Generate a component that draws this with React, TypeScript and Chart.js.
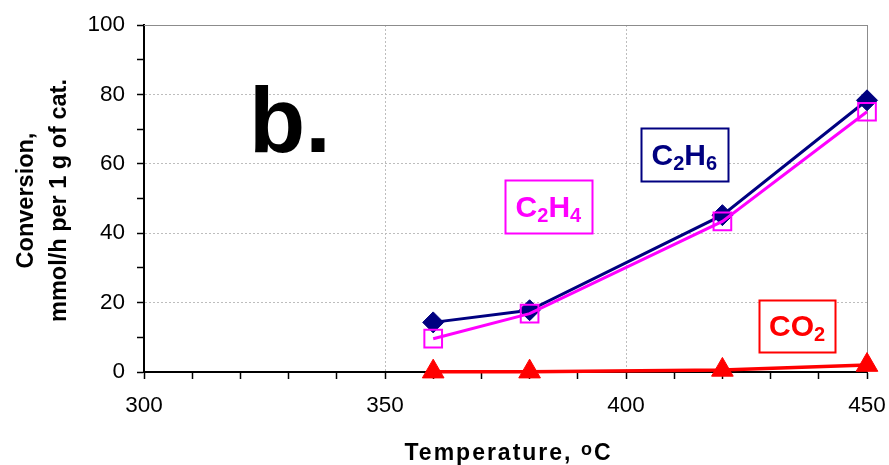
import React, { useEffect, useRef } from 'react';
import { Chart, registerables } from 'chart.js';

Chart.register(...registerables);

// ---- data ----
const temperatures = [360, 380, 420, 450];
const c2h6Values = [14.3, 17.8, 45.2, 78.3];
const c2h4Values = [9.6, 16.8, 43.4, 75.0];
const co2Values = [0.1, 0.1, 0.6, 2.0];

const xLabelTicks = [300, 350, 400, 450];
const yLabelTicks = [0, 20, 40, 60, 80, 100];
const xMinorStep = 10;
const yMinorStep = 10;

const yTitleLines = ['Conversion,', 'mmol/h per 1 g of cat.'];
const xTitleMain = 'Temperature, ';
const xTitleSup = 'o';
const xTitleUnit = 'C';
const panelLetter = 'b.';

// series tags: text segments [text, isSubscript], anchored in data coordinates
const c2h6Tag: [string, boolean][] = [['C', false], ['2', true], ['H', false], ['6', true]];
const c2h4Tag: [string, boolean][] = [['C', false], ['2', true], ['H', false], ['4', true]];
const co2Tag: [string, boolean][] = [['C', false], ['O', false], ['2', true]];

// ---- layout / style ----
const FONT = '"Liberation Sans", Arial, Helvetica, sans-serif';
const NAVY = '#000080';
const MAGENTA = '#FF00FF';
const RED = '#FF0000';

const tagLayout = [
  { seg: c2h6Tag, x: 412.1, y: 62.7, w: 87, h: 53, color: NAVY },
  { seg: c2h4Tag, x: 383.9, y: 47.7, w: 87, h: 53, color: MAGENTA },
  { seg: co2Tag, x: 435.5, y: 13.4, w: 76, h: 52, color: RED },
];
const panelLayout = { x: 321.8, y: 63.5 };

Chart.defaults.font.family = FONT;

const decorPlugin = {
  id: 'decor',
  beforeDatasetsDraw(chart: any) {
    const { ctx, chartArea: a, scales } = chart;
    const x = scales.x;
    const y = scales.y;
    ctx.save();
    ctx.strokeStyle = '#8c8c8c';
    ctx.lineWidth = 1;
    ctx.beginPath();
    const yt = Math.round(y.getPixelForValue(y.max)) + 0.5;
    ctx.moveTo(a.left, yt);
    ctx.lineTo(a.right + 1, yt);
    const xr = Math.round(x.getPixelForValue(x.max)) + 0.5;
    ctx.moveTo(xr, a.top);
    ctx.lineTo(xr, a.bottom);
    ctx.stroke();
    ctx.restore();
  },
  afterDatasetsDraw(chart: any) {
    const { ctx, scales } = chart;
    const x = scales.x;
    const y = scales.y;
    ctx.save();
    // panel letter
    ctx.fillStyle = '#000';
    ctx.font = `bold 92px ${FONT}`;
    ctx.textAlign = 'left';
    ctx.textBaseline = 'alphabetic';
    ctx.fillText(panelLetter, x.getPixelForValue(panelLayout.x), y.getPixelForValue(panelLayout.y));

    // series tags
    const mainFont = `bold 30px ${FONT}`;
    const subFont = `bold 20px ${FONT}`;
    for (const t of tagLayout) {
      const cx = x.getPixelForValue(t.x);
      const cy = y.getPixelForValue(t.y);
      const left = Math.round(cx - t.w / 2) + 0.5;
      const top = Math.round(cy - t.h / 2) + 0.5;
      ctx.fillStyle = '#ffffff';
      ctx.fillRect(left, top, t.w, t.h);
      ctx.strokeStyle = t.color;
      ctx.lineWidth = 2;
      ctx.strokeRect(left, top, t.w, t.h);
      let total = 0;
      for (const [s, sub] of t.seg) {
        ctx.font = sub ? subFont : mainFont;
        total += ctx.measureText(s).width;
      }
      let px = cx - total / 2;
      const base = cy + 10.5;
      ctx.fillStyle = t.color;
      for (const [s, sub] of t.seg) {
        ctx.font = sub ? subFont : mainFont;
        ctx.fillText(s, px, sub ? base + 5 : base);
        px += ctx.measureText(s).width;
      }
    }
    ctx.restore();
  },
  afterDraw(chart: any) {
    const { ctx, chartArea: a } = chart;
    ctx.save();
    ctx.fillStyle = '#000';
    // y title (two rotated lines)
    ctx.font = `bold 23.5px ${FONT}`;
    ctx.textAlign = 'center';
    ctx.textBaseline = 'alphabetic';
    const cy = (a.top + a.bottom) / 2 + 2;
    const baselines = [32.5, 65.5];
    yTitleLines.forEach((line, i) => {
      ctx.save();
      ctx.translate(baselines[i], cy);
      ctx.rotate(-Math.PI / 2);
      ctx.fillText(line, 0, 0);
      ctx.restore();
    });
    // x title with superscript
    const mainF = `bold 23px ${FONT}`;
    const supF = `bold 18px ${FONT}`;
    (ctx as any).letterSpacing = '2px';
    ctx.textAlign = 'left';
    ctx.font = mainF;
    const w1 = ctx.measureText(xTitleMain).width;
    const w3 = ctx.measureText(xTitleUnit).width;
    ctx.font = supF;
    const w2 = ctx.measureText(xTitleSup).width;
    const total = w1 + w2 + w3;
    let px = (a.left + a.right) / 2 + 3 - total / 2;
    const base = 460;
    ctx.font = mainF;
    ctx.fillText(xTitleMain, px, base);
    px += w1;
    ctx.font = supF;
    ctx.fillText(xTitleSup, px, base - 5);
    px += w2;
    ctx.font = mainF;
    ctx.fillText(xTitleUnit, px, base);
    ctx.restore();
  },
};

function minorTicks(min: number, max: number, step: number) {
  const out: { value: number }[] = [];
  for (let v = min; v <= max + 1e-9; v += step) out.push({ value: v });
  return out;
}

export default function App() {
  const ref = useRef<HTMLCanvasElement | null>(null);

  useEffect(() => {
    if (!ref.current) return;
    const pts = (vals: number[]) => temperatures.map((t, i) => ({ x: t, y: vals[i] }));
    const xMin = xLabelTicks[0];
    const xMax = xLabelTicks[xLabelTicks.length - 1];
    const yMin = yLabelTicks[0];
    const yMax = yLabelTicks[yLabelTicks.length - 1];

    const chart = new Chart(ref.current, {
      type: 'line',
      data: {
        datasets: [
          {
            label: 'C2H6',
            data: pts(c2h6Values),
            borderColor: NAVY,
            backgroundColor: NAVY,
            borderWidth: 3,
            pointStyle: 'rectRot',
            pointRadius: 10.5,
            pointBorderWidth: 1,
            pointBackgroundColor: NAVY,
            pointBorderColor: NAVY,
            order: 3,
            clip: false,
          } as any,
          {
            label: 'C2H4',
            data: pts(c2h4Values),
            borderColor: MAGENTA,
            backgroundColor: 'rgba(0,0,0,0)',
            borderWidth: 3,
            pointStyle: 'rect',
            pointRadius: 12.5,
            pointBorderWidth: 2,
            pointBackgroundColor: 'rgba(0,0,0,0)',
            pointBorderColor: MAGENTA,
            order: 2,
            clip: false,
          } as any,
          {
            label: 'CO2',
            data: pts(co2Values),
            borderColor: RED,
            backgroundColor: RED,
            borderWidth: 3.5,
            pointStyle: 'triangle',
            pointRadius: 12.5,
            pointBorderWidth: 1,
            pointBackgroundColor: RED,
            pointBorderColor: RED,
            order: 1,
            clip: false,
          } as any,
        ],
      },
      options: {
        responsive: false,
        animation: false,
        devicePixelRatio: 1,
        layout: { padding: { top: 25, right: 22, left: 0, bottom: 0 } },
        plugins: { legend: { display: false }, tooltip: { enabled: false } },
        scales: {
          x: {
            type: 'linear',
            min: xMin,
            max: xMax,
            afterFit: (s: any) => {
              s.height = 93;
              s.paddingLeft = 0;
              s.paddingRight = 0;
            },
            afterBuildTicks: (s: any) => {
              s.ticks = minorTicks(xMin, xMax, xMinorStep);
            },
            ticks: {
              autoSkip: false,
              maxRotation: 0,
              color: '#000',
              padding: 13,
              font: { size: 22.5, family: FONT },
              callback: (v: any) => (xLabelTicks.includes(Number(v)) ? String(v) : ''),
            },
            grid: {
              color: (c: any) =>
                c.tick && c.tick.value > xMin && c.tick.value < xMax && xLabelTicks.includes(c.tick.value)
                  ? '#bdbdbd'
                  : 'rgba(0,0,0,0)',
              lineWidth: 1,
              tickColor: '#000',
              tickLength: 7,
              tickWidth: 1.5,
            },
            border: { color: '#000', width: 2, dash: [2, 2] },
          },
          y: {
            type: 'linear',
            min: yMin,
            max: yMax,
            afterFit: (s: any) => {
              s.width = 144;
              s.paddingTop = 0;
              s.paddingBottom = 0;
            },
            afterBuildTicks: (s: any) => {
              s.ticks = minorTicks(yMin, yMax, yMinorStep);
            },
            ticks: {
              autoSkip: false,
              color: '#000',
              padding: 12,
              font: { size: 22.5, family: FONT },
              callback: (v: any) => (yLabelTicks.includes(Number(v)) ? String(v) : ''),
            },
            grid: {
              color: (c: any) =>
                c.tick && c.tick.value > yMin && c.tick.value < yMax && yLabelTicks.includes(c.tick.value)
                  ? '#bdbdbd'
                  : 'rgba(0,0,0,0)',
              lineWidth: 1,
              tickColor: '#000',
              tickLength: 7,
              tickWidth: 1.5,
            },
            border: { color: '#000', width: 2, dash: [2, 2] },
          },
        },
      } as any,
      plugins: [decorPlugin],
    });
    return () => chart.destroy();
  }, []);

  return (
    <div style={{ position: 'fixed', left: 0, top: 0, width: 889, height: 465, background: '#fff' }}>
      <canvas ref={ref} width={889} height={465} style={{ display: 'block', width: 889, height: 465 }} />
    </div>
  );
}
